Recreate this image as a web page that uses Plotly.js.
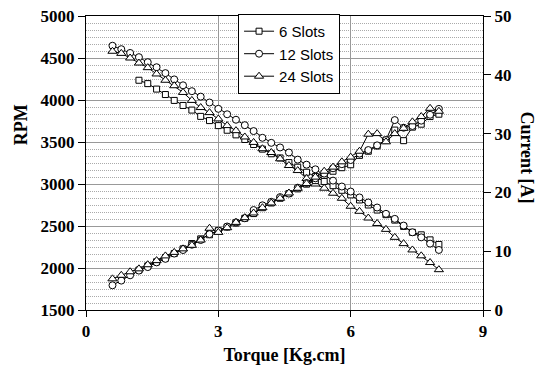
<!DOCTYPE html>
<html><head><meta charset="utf-8">
<script src="https://cdn.plot.ly/plotly-3.0.1.min.js"></script>
<style>html,body{margin:0;padding:0;background:#fff}#chart{width:542px;height:365px}</style>
</head><body><div id="chart"></div>
<script>
var torque = [0.6,0.8,1.0,1.2,1.4,1.6,1.8,2.0,2.2,2.4,2.6,2.8,3.0,3.2,3.4,3.6,3.8,4.0,4.2,4.4,4.6,4.8,5.0,5.2,5.4,5.6,5.8,6.0,6.2,6.4,6.6,6.8,7.0,7.2,7.4,7.6,7.8,8.0];
var torque6 = [1.2,1.4,1.6,1.8,2.0,2.2,2.4,2.6,2.8,3.0,3.2,3.4,3.6,3.8,4.0,4.2,4.4,4.6,4.8,5.0,5.2,5.4,5.6,5.8,6.0,6.2,6.4,6.6,6.8,7.0,7.2,7.4,7.6,7.8,8.0];
var rpm6 = [4235,4195,4130,4065,3995,3935,3880,3805,3755,3695,3640,3585,3530,3470,3415,3360,3310,3255,3200,3140,3090,3030,2980,2925,2870,2810,2750,2690,2635,2570,2495,2425,2395,2335,2280];
var rpm12 = [4646,4605,4560,4510,4450,4390,4320,4245,4175,4105,4040,3970,3895,3830,3765,3700,3630,3550,3490,3435,3375,3290,3230,3175,3110,3040,2970,2910,2840,2780,2720,2645,2585,2505,2425,2365,2290,2215];
var rpm24 = [4580,4555,4500,4440,4385,4310,4235,4170,4090,3995,3910,3850,3775,3695,3635,3560,3495,3420,3375,3300,3220,3160,3065,3000,2950,2890,2830,2735,2675,2595,2530,2460,2365,2290,2215,2145,2065,1980];
var cur6 = [6.8,7.5,8.2,8.9,9.6,10.4,11.3,12.1,12.8,13.5,14.1,14.8,15.6,16.4,17.4,18.2,19.0,19.8,20.6,21.4,22.0,22.9,23.6,24.2,24.7,26.3,27.0,27.9,28.9,30.6,28.8,31.1,31.6,32.9,33.3];
var cur12 = [4.2,5.0,5.9,6.7,7.3,8.1,8.7,9.6,10.2,11.1,11.9,12.9,13.5,14.2,14.9,15.6,17.0,17.8,18.4,19.2,19.8,20.8,21.6,22.4,23.2,24.1,24.8,25.5,26.6,27.2,28.0,28.9,32.3,31.0,31.3,32.2,33.2,34.2];
var cur24 = [5.3,5.9,6.5,7.0,7.7,8.4,9.2,9.8,10.4,11.0,11.9,13.9,13.2,14.0,14.9,15.7,16.5,17.4,18.2,19.0,19.9,20.7,21.5,22.6,23.6,24.3,25.2,26.0,27.0,29.9,30.0,28.6,30.0,30.9,32.0,32.9,34.3,33.8];
var names = ['6 Slots','12 Slots','24 Slots'];
var xTicks = [0,3,6,9];
var rpmTicks = [1500,2000,2500,3000,3500,4000,4500,5000];
var curTicks = [0,10,20,30,40,50];
function b(v){return '<b>'+v+'</b>';}

function mk(sym, sz){return {symbol: sym, size: sz, color:'#fff', line:{color:'#000', width:1}};}
var lineStyle = {color:'#000', width:1};
var traces = [
 {x: torque6, y: rpm6, name: names[0], mode:'lines+markers', line: lineStyle, marker: mk('square',6)},
 {x: torque, y: rpm12, name: names[1], mode:'lines+markers', line: lineStyle, marker: mk('circle',7)},
 {x: torque, y: rpm24, name: names[2], mode:'lines+markers', line: lineStyle, marker: mk('triangle-up',8)},
 {x: torque6, y: cur6, yaxis:'y2', showlegend:false, mode:'lines+markers', line: lineStyle, marker: mk('square',6)},
 {x: torque, y: cur12, yaxis:'y2', showlegend:false, mode:'lines+markers', line: lineStyle, marker: mk('circle',7)},
 {x: torque, y: cur24, yaxis:'y2', showlegend:false, mode:'lines+markers', line: lineStyle, marker: mk('triangle-up',8)}
];
var serif = 'Liberation Serif, Times New Roman, serif';
var tickFont = {family:serif, size:17, color:'#000', weight:'bold'};
var titleFont = {family:serif, size:18, color:'#000', weight:'bold'};

var layout = {
  width:542, height:365,
  margin:{l:86, r:59, t:16, b:55},
  paper_bgcolor:'#fff', plot_bgcolor:'#fff',
  showlegend:true,
  legend:{x:0.383, y:1.007, xanchor:'left', yanchor:'top', bgcolor:'#fff', bordercolor:'#000', borderwidth:1,
          font:{family:'Liberation Sans, Arial, sans-serif', size:15, color:'#000'}, tracegroupgap:0},
  xaxis:{range:[0,9], tickvals:xTicks, ticktext:xTicks.map(b), ticks:'outside', ticklen:6, tickcolor:'#000',
         showline:true, linecolor:'#000', linewidth:1, mirror:true, showgrid:true, gridcolor:'#999', gridwidth:1,
         zeroline:false, tickfont:tickFont,
         title:{text:'Torque [Kg.cm]', font:titleFont, standoff:7}},
  yaxis:{range:[1500,5000], tickvals:rpmTicks, ticktext:rpmTicks.map(b), ticks:'outside', ticklen:7, tickcolor:'#000',
         showline:true, linecolor:'#000', linewidth:1, showgrid:true, gridcolor:'#999', gridwidth:1, zeroline:false,
         tickfont:tickFont,
         minor:{dtick:500/6, tick0:1500, showgrid:true, gridcolor:'#aaa', gridwidth:1, griddash:'1px,1px', ticks:''}},
  yaxis2:{range:[0,50], tickvals:curTicks, ticktext:curTicks.map(b), overlaying:'y', side:'right', ticks:'outside', ticklen:7, tickcolor:'#000',
          showline:true, linecolor:'#000', linewidth:1, showgrid:false, zeroline:false, tickfont:tickFont},
  annotations:[
    {text:'<b>RPM</b>', xref:'paper', yref:'paper', x:-0.165, y:0.63, showarrow:false, textangle:-90,
     font:titleFont, xanchor:'center', yanchor:'middle'},
    {text:'<b>Current [A]</b>', xref:'paper', yref:'paper', x:1.11, y:0.52, showarrow:false, textangle:90,
     font:titleFont, xanchor:'center', yanchor:'middle'}
  ]
};
Plotly.newPlot('chart', traces, layout, {displayModeBar:false, staticPlot:true});
</script></body></html>
